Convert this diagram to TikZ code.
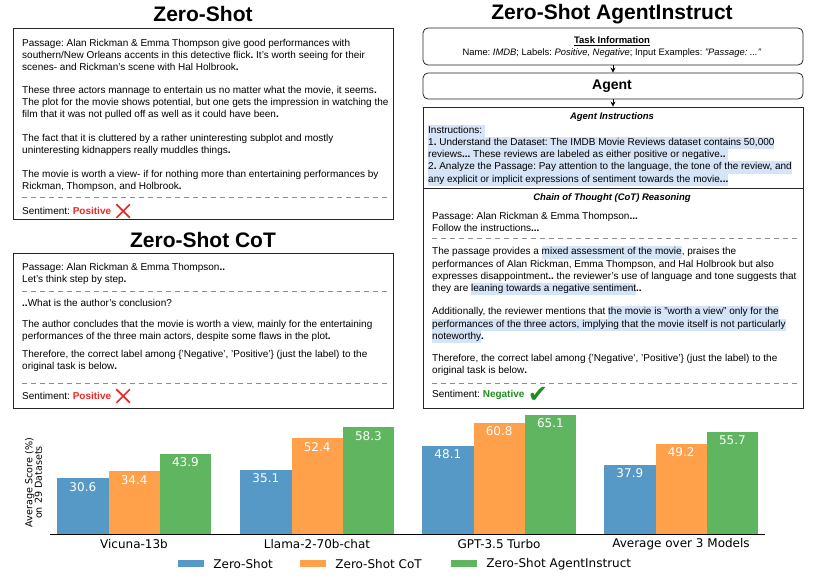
\documentclass[tikz,border=0pt]{standalone}
\usepackage{fontspec}
\setmainfont{Liberation Sans}
\newfontfamily\chartfont{DejaVu Sans}
\usetikzlibrary{%
	positioning,
	fit,
	arrows.meta,
	shapes.misc
}
\definecolor{zsblue}{RGB}{86,152,198}
\definecolor{cotorange}{RGB}{255,160,74}
\definecolor{aigreen}{RGB}{96,182,96}
\definecolor{hlblue}{RGB}{214,228,247}
\definecolor{posred}{RGB}{235,40,40}
\definecolor{neggreen}{RGB}{34,139,34}
\newcommand{\hlt}[1]{{\setlength{\fboxsep}{0pt}\colorbox{hlblue}{\strut #1}}}
\newcommand{\bd}{\textbf{.}}
\frenchspacing

\begin{document}
\begin{tikzpicture}[x=1pt,y=-1pt,
		title/.style={font=\fontsize{21}{21}\selectfont\bfseries,inner sep=0pt},
		body/.style={font=\fontsize{10}{12}\selectfont,align=left,inner sep=0pt,anchor=north west},
		heading/.style={font=\fontsize{9.5}{12}\selectfont\bfseries\itshape,inner sep=0pt},
		panel/.style={draw=black!85,line width=.8pt,inner sep=0pt},
		rpanel/.style={panel,rounded corners=5pt},
		sep/.style={draw=black!45,dash pattern=on 5pt off 4pt,line width=.6pt},
		arr/.style={-{Stealth[length=5pt,width=5pt]},line width=.8pt},
		wrong/.style={cross out,draw=posred,line width=1.6pt,minimum size=12pt,inner sep=0pt},
		bar/.style={minimum width=51.3pt,inner sep=0pt,anchor=south west},
		val/.style={font=\chartfont\fontsize{12}{12}\selectfont,text=white,inner sep=0pt},
		xlab/.style={font=\chartfont\fontsize{12}{12}\selectfont,inner sep=0pt},
		key/.style={minimum width=26pt,minimum height=7.5pt,inner sep=0pt}
	]
	\useasboundingbox (0,0) rectangle (817,579);
	
	%Zero-Shot
	\node (ZS) [title] at (203,14) {Zero-Shot};
	\node (ZS-p1) [body] at (22,39.5) {Passage: Alan Rickman \& Emma Thompson give good performances with\\southern/New Orleans accents in this detective flick\bd{} It's worth seeing for their\\scenes- and Rickman's scene with Hal Holbrook\bd};
	\node (ZS-p2) [body] at (22,86.5) {These three actors mannage to entertain us no matter what the movie, it seems\bd\\The plot for the movie shows potential, but one gets the impression in watching the\\film that it was not pulled off as well as it could have been\bd};
	\node (ZS-p3) [body] at (22,134.5) {The fact that it is cluttered by a rather uninteresting subplot and mostly\\uninteresting kidnappers really muddles things\bd};
	\node (ZS-p4) [body] at (22,170.5) {The movie is worth a view- if for nothing more than entertaining performances by\\Rickman, Thompson, and Holbrook\bd};
	\draw [sep] (22,197) -- (387,197);
	\node (ZS-sent) [body,anchor=west] at (22,211) {Sentiment: \textcolor{posred}{\textbf{Positive}}};
	\node (ZS-x) [wrong, right=5pt of ZS-sent] {};
	\node (ZS-out) [panel, fit={(13,28) (393,219)}] {};
	
	%Zero-Shot CoT
	\node (CoT) [title] at (203,239.5) {Zero-Shot CoT};
	\node (CoT-p1) [body] at (22,263.5) {Passage: Alan Rickman \& Emma Thompson\textbf{..}\\Let's think step by step\bd};
	\draw [sep] (22,291) -- (387,291);
	\node (CoT-p2) [body] at (22,299.5) {\textbf{..}What is the author's conclusion?};
	\node (CoT-p3) [body] at (22,320.5) {The author concludes that the movie is worth a view, mainly for the entertaining\\performances of the three main actors, despite some flaws in the plot\bd};
	\node (CoT-p4) [body] at (22,350.5) {Therefore, the correct label among \{'Negative', 'Positive'\} (just the label) to the\\original task is below\bd};
	\draw [sep] (22,383) -- (387,383);
	\node (CoT-sent) [body,anchor=west] at (22,396) {Sentiment: \textcolor{posred}{\textbf{Positive}}};
	\node (CoT-x) [wrong, right=5pt of CoT-sent] {};
	\node (CoT-out) [panel, fit={(13,253) (393,408)}] {};
	
	%Zero-Shot AgentInstruct
	\node (AI) [title] at (612,14) {Zero-Shot AgentInstruct};
	\node (TI-head) [font=\fontsize{9.5}{12}\selectfont\bfseries,inner sep=0pt] at (612,41) {\underline{Task Information}};
	\node (TI-text) [font=\fontsize{9.4}{10}\selectfont,inner sep=0pt] at (612,53.5) {Name: \textit{IMDB}; Labels: \textit{Positive, Negative}; Input Examples: \textit{"Passage: ..."}};
	\node (TI-out) [rpanel, fit={(423,28) (803,65)}] {};
	\node (AG) [font=\fontsize{14}{14}\selectfont\bfseries,inner sep=0pt] at (612,86) {Agent};
	\node (AG-out) [rpanel, fit={(423,73) (803,99)}] {};
	\draw [arr] (TI-out) -- (AG-out);
	
	%agent instructions
	\node (IN-head) [heading] at (612,117) {Agent Instructions};
	\node (IN-text) [body,font=\fontsize{10}{12.2}\selectfont] at (428,124.5) {\hlt{Instructions:\ }\\\hlt{1\bd{} Understand the Dataset: The IMDB Movie Reviews dataset contains 50,000}\\\hlt{reviews\textbf{...} These reviews are labeled as either positive or negative\textbf{..}\ }\\\hlt{2\bd{} Analyze the Passage: Pay attention to the language, the tone of the review, and}\\\hlt{any explicit or implicit expressions of sentiment towards the movie\textbf{...}}};
	\node (IN-out) [panel, fit={(423,107) (803,188)}] {};
	\draw [arr] (AG-out) -- (IN-out);
	
	%CoT reasoning
	\node (RE-head) [heading] at (612,198) {Chain of Thought (CoT) Reasoning};
	\node (RE-p1) [body] at (432,212.5) {Passage: Alan Rickman \& Emma Thompson\textbf{...}\\Follow the instructions\textbf{...}};
	\draw [sep] (432,238) -- (797,238);
	\node (RE-p2) [body,font=\fontsize{10}{12.3}\selectfont] at (432,246) {The passage provides a \hlt{mixed assessment of the movie}, praises the\\performances of Alan Rickman, Emma Thompson, and Hal Holbrook but also\\expresses disappointment\textbf{..} the reviewer's use of language and tone suggests that\\they are \hlt{leaning towards a negative sentiment}\textbf{..}};
	\node (RE-p3) [body,font=\fontsize{10}{12.3}\selectfont] at (432,306) {Additionally, the reviewer mentions that \hlt{the movie is "worth a view" only for the}\\\hlt{performances of the three actors, implying that the movie itself is not particularly}\\\hlt{noteworthy}\bd};
	\node (RE-p4) [body] at (432,354.5) {Therefore, the correct label among \{'Negative', 'Positive'\} (just the label) to the\\original task is below\bd};
	\draw [sep] (432,383) -- (797,383);
	\node (RE-sent) [body,anchor=west] at (432,395) {Sentiment: \textcolor{neggreen}{\textbf{Negative}}};
	\node (RE-check) [text=neggreen,font=\chartfont\fontsize{24}{24}\selectfont,inner sep=0pt,right=3pt of RE-sent] {✔};
	\node (RE-out) [panel, fit={(423,188) (803,408)}] {};
	
	%Vicuna-13b
	\node (vic-zs) [bar,fill=zsblue,minimum height={30.6*1.835pt}] at (57,534.5) {};
	\node (vic-cot) [bar,fill=cotorange,minimum height={34.4*1.835pt}] at (108.3,534.5) {};
	\node (vic-ai) [bar,fill=aigreen,minimum height={43.9*1.835pt}] at (159.6,534.5) {};
	\node (vic-zs-v) [val,below=4pt of vic-zs.north] {30.6};
	\node (vic-cot-v) [val,below=4pt of vic-cot.north] {34.4};
	\node (vic-ai-v) [val,below=4pt of vic-ai.north] {43.9};
	\node (vic-lab) [xlab] at (134,544) {Vicuna-13b};
	
	%Llama-2-70b-chat
	\node (lla-zs) [bar,fill=zsblue,minimum height={35.1*1.835pt}] at (240,534.5) {};
	\node (lla-cot) [bar,fill=cotorange,minimum height={52.4*1.835pt}] at (291.3,534.5) {};
	\node (lla-ai) [bar,fill=aigreen,minimum height={58.3*1.835pt}] at (342.6,534.5) {};
	\node (lla-zs-v) [val,below=4pt of lla-zs.north] {35.1};
	\node (lla-cot-v) [val,below=4pt of lla-cot.north] {52.4};
	\node (lla-ai-v) [val,below=4pt of lla-ai.north] {58.3};
	\node (lla-lab) [xlab] at (317,544) {Llama-2-70b-chat};
	
	%GPT-3.5 Turbo
	\node (gpt-zs) [bar,fill=zsblue,minimum height={48.1*1.835pt}] at (422,534.5) {};
	\node (gpt-cot) [bar,fill=cotorange,minimum height={60.8*1.835pt}] at (473.3,534.5) {};
	\node (gpt-ai) [bar,fill=aigreen,minimum height={65.1*1.835pt}] at (524.6,534.5) {};
	\node (gpt-zs-v) [val,below=4pt of gpt-zs.north] {48.1};
	\node (gpt-cot-v) [val,below=4pt of gpt-cot.north] {60.8};
	\node (gpt-ai-v) [val,below=4pt of gpt-ai.north] {65.1};
	\node (gpt-lab) [xlab] at (499,544) {GPT-3.5 Turbo};
	
	%Average over 3 Models
	\node (avg-zs) [bar,fill=zsblue,minimum height={37.9*1.835pt}] at (604,534.5) {};
	\node (avg-cot) [bar,fill=cotorange,minimum height={49.2*1.835pt}] at (655.3,534.5) {};
	\node (avg-ai) [bar,fill=aigreen,minimum height={55.7*1.835pt}] at (706.6,534.5) {};
	\node (avg-zs-v) [val,below=4pt of avg-zs.north] {37.9};
	\node (avg-cot-v) [val,below=4pt of avg-cot.north] {49.2};
	\node (avg-ai-v) [val,below=4pt of avg-ai.north] {55.7};
	\node (avg-lab) [xlab] at (681,544) {Average over 3 Models};
	
	%axis and legend
	\draw [line width=.9pt] (50,534.5) -- (765,534.5);
	\node (ylab) [font=\chartfont\fontsize{9.6}{9.6}\selectfont,align=center,rotate=90,inner sep=0pt] at (33.5,482.5) {Average Score (\%)\\on 29 Datasets};
	\node (zs-key) [key,fill=zsblue] at (191,563.7) {};
	\node (zs-key-t) [xlab,right=9pt of zs-key] {Zero-Shot};
	\node (cot-key) [key,fill=cotorange] at (313,563.7) {};
	\node (cot-key-t) [xlab,right=9pt of cot-key] {Zero-Shot CoT};
	\node (ai-key) [key,fill=aigreen] at (464,563.7) {};
	\node (ai-key-t) [xlab,right=9pt of ai-key] {Zero-Shot AgentInstruct};
	
\end{tikzpicture}
\end{document}
